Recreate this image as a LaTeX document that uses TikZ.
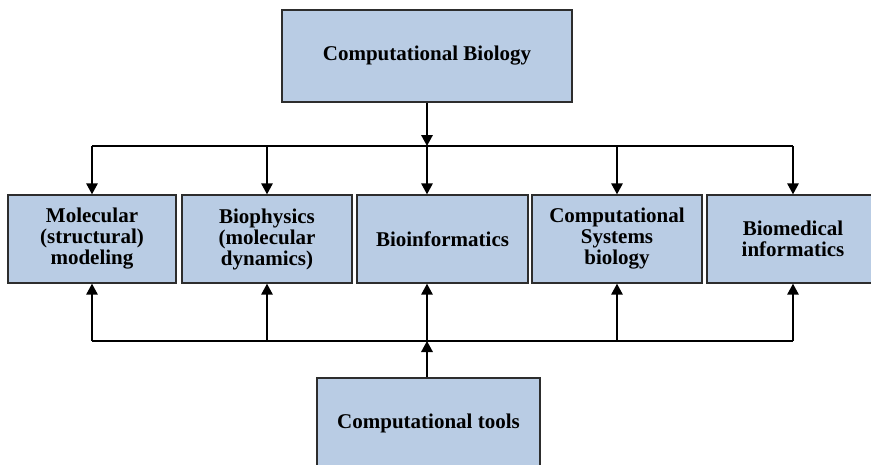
\documentclass[tikz,border=0pt]{standalone}
\usepackage{fontspec}
\setmainfont{Liberation Serif}
\usepackage{tikz}
\usetikzlibrary{positioning,arrows.meta,calc}
\definecolor{boxblue}{RGB}{185,204,228}
\definecolor{boxedge}{RGB}{45,45,45}

\begin{document}
\begin{tikzpicture}[x=1pt, y=-1pt,
  field/.style={rectangle, draw=boxedge, fill=boxblue, line width=1.4pt,
                font=\fontsize{21}{21}\selectfont\bfseries, minimum height=88pt,
                inner sep=0pt, align=center},
  ar/.style={-{Triangle[length=11pt, width=11.5pt]}, line width=1.6pt, black},
  bus/.style={line width=1.6pt, black},
]

\useasboundingbox (0,0) rectangle (871,464);

\node[field, minimum width=290pt, minimum height=92pt] (cb) at (427, 56) {Computational Biology};

\node[field, minimum width=168pt] (mol)  at (92, 239)   {Molecular\\(structural)\\modeling};
\node[field, minimum width=170pt] (bph)  at (267, 239)  {Biophysics\\(molecular\\dynamics)};
\node[field, minimum width=171pt] (binf) at (442.5, 239) {Bioinformatics};
\node[field, minimum width=170pt] (csb)  at (617, 239)  {Computational\\Systems\\biology};
\node[field, minimum width=172pt] (bmi)  at (793, 239)  {Biomedical\\informatics};

\node[field, minimum width=223pt, minimum height=100pt] (tools) at (428.5, 428)
  {\raisebox{13pt}{Computational tools}};

\coordinate (topbus) at (427, 146);
\coordinate (botbus) at (427, 341);

\draw[ar] (cb.south -| topbus) -- (topbus);
\draw[bus] (topbus -| mol.north) -- (topbus -| bmi.north);
\foreach \f in {mol,bph,csb,bmi}
  \draw[ar] (topbus -| \f.north) -- (\f.north);
\draw[ar] (topbus) -- (binf.north -| topbus);

\draw[ar] (tools.north -| botbus) -- (botbus);
\draw[bus] (botbus -| mol.south) -- (botbus -| bmi.south);
\foreach \f in {mol,bph,csb,bmi}
  \draw[ar] (botbus -| \f.south) -- (\f.south);
\draw[ar] (botbus) -- (binf.south -| botbus);

\end{tikzpicture}
\end{document}
